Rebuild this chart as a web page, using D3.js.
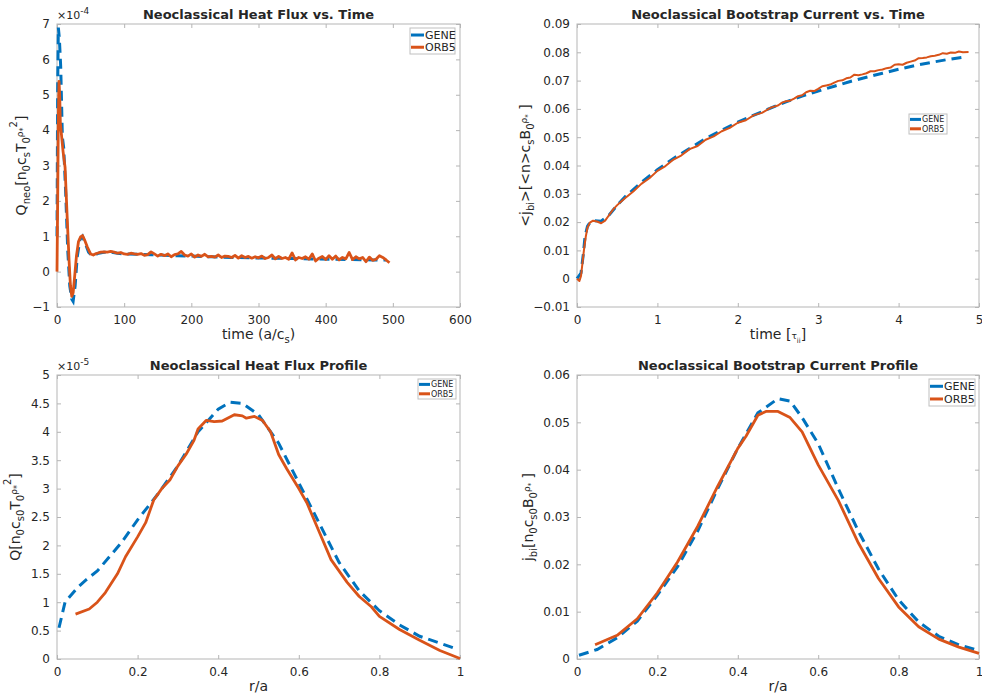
<!DOCTYPE html>
<html lang="en">
<head>
<meta charset="UTF-8">
<title>Neoclassical GENE vs ORB5</title>
<script src="https://cdn.jsdelivr.net/npm/d3@7"></script>
<style>
  body { margin: 0; background: #fff; }
  text { font-family: "DejaVu Sans", sans-serif; fill: #262626; }
</style>
</head>
<body>
<div id="chart"></div>
<script>
// ---- data ----
// panel 1: heat flux vs time (x 1e-4)
var flux_t_gene = [0, 1, 2, 3.5, 5.5, 8, 10, 13, 16, 19, 22, 24, 27, 30, 34, 38, 42, 47, 52, 57, 62, 70, 80, 90, 100, 120, 140, 160, 180, 200, 230, 260, 290, 320, 350, 380, 410, 440, 470, 490];
var flux_v_gene = [1.0, 5.2, 6.9, 6.6, 5.8, 3.8, 3.5, 2.2, 0.6, -0.4, -0.78, -0.84, -0.4, 0.4, 0.9, 1.0, 0.8, 0.55, 0.45, 0.48, 0.52, 0.55, 0.55, 0.52, 0.50, 0.49, 0.48, 0.46, 0.45, 0.44, 0.42, 0.40, 0.39, 0.38, 0.37, 0.36, 0.35, 0.34, 0.33, 0.33];
var flux_t_orb = [0, 1, 2, 3, 4, 5, 7, 9, 12, 15, 18, 20, 22, 24, 26, 29, 32, 35, 38, 41, 45, 50, 54, 57,
  60, 65, 70, 75, 80, 85, 90, 95, 100, 105, 110, 115, 120, 125, 130, 135, 140, 145, 150, 155, 160, 165, 170, 175, 180, 185, 190, 195,
  200, 205, 210, 215, 220, 225, 230, 235, 240, 245, 250, 255, 260, 265, 270, 275, 280, 285, 290, 295,
  300, 305, 310, 315, 320, 325, 330, 335, 340, 345, 350, 355, 360, 365, 370, 375, 380, 385, 390, 395,
  400, 405, 410, 415, 420, 425, 430, 435, 440, 445, 450, 455, 460, 465, 470, 475, 480, 485, 490, 495];
var flux_v_orb = [0.0, 2.0, 4.4, 5.38, 5.0, 4.2, 3.8, 3.4, 2.95, 1.6, 0.3, -0.4, -0.7, -0.6, -0.2, 0.45, 0.85, 0.98, 1.02, 0.9, 0.7, 0.5, 0.47, 0.5,
  0.52, 0.55, 0.56, 0.55, 0.57, 0.55, 0.52, 0.54, 0.50, 0.49, 0.52, 0.50, 0.49, 0.51, 0.46, 0.48, 0.56, 0.50, 0.44, 0.49, 0.45, 0.50, 0.42, 0.48, 0.50, 0.57, 0.47, 0.44,
  0.50, 0.41, 0.47, 0.43, 0.49, 0.42, 0.43, 0.41, 0.47, 0.40, 0.44, 0.43, 0.40, 0.46, 0.38, 0.45, 0.40, 0.43, 0.38, 0.42,
  0.39, 0.44, 0.37, 0.40, 0.47, 0.36, 0.43, 0.37, 0.40, 0.35, 0.53, 0.33, 0.40, 0.37, 0.42, 0.35, 0.50, 0.30, 0.38, 0.43,
  0.34, 0.45, 0.35, 0.44, 0.33, 0.40, 0.36, 0.54, 0.34, 0.42, 0.36, 0.40, 0.28, 0.41, 0.32, 0.35, 0.45, 0.40, 0.33, 0.25];

// panel 2: bootstrap current vs time
var boot_t_gene = [0, 0.05, 0.08, 0.1, 0.13, 0.16, 0.2, 0.3, 0.4, 0.5, 0.6, 0.8, 1.0, 1.2, 1.4, 1.6, 1.8, 2.0, 2.2, 2.4, 2.6, 2.8, 3.0, 3.2, 3.4, 3.6, 3.8, 4.0, 4.2, 4.4, 4.6, 4.85];
var boot_v_gene = [0, 0.002, 0.009, 0.015, 0.0185, 0.0198, 0.0205, 0.0203, 0.0225, 0.026, 0.029, 0.034, 0.0385, 0.0425, 0.046, 0.0495, 0.0525, 0.0553, 0.0578, 0.0602, 0.0625, 0.0645, 0.0663, 0.068, 0.0697, 0.0712, 0.0726, 0.074, 0.0753, 0.0764, 0.0774, 0.0785];
var boot_t_orb = [0, 0.03, 0.05, 0.07, 0.09, 0.11, 0.13, 0.16, 0.2, 0.25, 0.3, 0.35, 0.4, 0.45, 0.5, 0.55, 0.6,
  0.7, 0.8, 0.9, 1.0, 1.1, 1.2, 1.3, 1.4, 1.5, 1.6, 1.7, 1.8, 1.9, 2.0, 2.1, 2.2, 2.3,
  2.4, 2.45, 2.5, 2.55, 2.6, 2.65, 2.7, 2.75, 2.8, 2.85, 2.9, 2.95, 3.0, 3.05, 3.1, 3.15, 3.2, 3.25, 3.3, 3.35,
  3.4, 3.45, 3.5, 3.55, 3.6, 3.65, 3.7, 3.75, 3.8, 3.85, 3.9, 3.95, 4.0, 4.05, 4.1, 4.15, 4.2, 4.25, 4.3, 4.35,
  4.4, 4.45, 4.5, 4.55, 4.6, 4.65, 4.7, 4.75, 4.8, 4.87];
var boot_v_orb = [0, -0.0008, 0.001, 0.006, 0.011, 0.015, 0.018, 0.0198, 0.0205, 0.0202, 0.0196, 0.0205, 0.0225, 0.0245, 0.026, 0.0273, 0.0285,
  0.0308, 0.0335, 0.0355, 0.0381, 0.0398, 0.0421, 0.0436, 0.0458, 0.0469, 0.0491, 0.0503, 0.0521, 0.0533, 0.0551, 0.0560, 0.0578, 0.0586,
  0.0603, 0.0608, 0.0612, 0.0622, 0.0627, 0.0629, 0.0636, 0.0645, 0.0648, 0.0659, 0.0664, 0.0663, 0.0671, 0.0680, 0.0683, 0.0686, 0.0693, 0.0699, 0.0701, 0.0708,
  0.0711, 0.0721, 0.0719, 0.0722, 0.0726, 0.0733, 0.0733, 0.0737, 0.0739, 0.0744, 0.0746, 0.0756, 0.0758, 0.0756, 0.0763, 0.0767, 0.0771, 0.0779, 0.0780, 0.0782,
  0.0786, 0.0788, 0.0791, 0.0797, 0.0795, 0.0799, 0.0798, 0.0803, 0.0800, 0.0801];

// panel 3: heat flux profile (x 1e-5)
var qprof_r_gene = [0.005, 0.02, 0.05, 0.07, 0.1, 0.13, 0.16, 0.2, 0.25, 0.3, 0.35, 0.4, 0.43, 0.46, 0.5, 0.55, 0.6, 0.65, 0.7, 0.75, 0.8, 0.85, 0.9, 0.95, 0.99];
var qprof_v_gene = [0.55, 1.0, 1.25, 1.38, 1.55, 1.8, 2.05, 2.45, 2.9, 3.4, 4.0, 4.4, 4.52, 4.5, 4.3, 3.8, 3.1, 2.4, 1.7, 1.2, 0.85, 0.6, 0.4, 0.28, 0.18];
var qprof_r_orb = [0.046, 0.08, 0.1, 0.12, 0.15, 0.17, 0.2, 0.22, 0.24, 0.26, 0.28, 0.3, 0.32, 0.34, 0.35, 0.37, 0.39, 0.41, 0.44, 0.46, 0.47, 0.49, 0.51, 0.53, 0.55, 0.57, 0.6, 0.62, 0.65, 0.68, 0.72, 0.75, 0.78, 0.8, 0.85, 0.9, 0.95, 1.0];
var qprof_v_orb = [0.79, 0.88, 1.0, 1.17, 1.5, 1.8, 2.15, 2.4, 2.8, 3.0, 3.15, 3.4, 3.6, 3.85, 4.05, 4.2, 4.18, 4.19, 4.3, 4.28, 4.24, 4.27, 4.2, 4.0, 3.6, 3.35, 3.0, 2.75, 2.25, 1.75, 1.35, 1.1, 0.92, 0.75, 0.52, 0.33, 0.15, 0.01];

// panel 4: bootstrap current profile
var jprof_r_gene = [0.005, 0.05, 0.1, 0.15, 0.2, 0.25, 0.3, 0.35, 0.4, 0.45, 0.5, 0.53, 0.56, 0.6, 0.65, 0.7, 0.75, 0.8, 0.85, 0.9, 0.95, 0.99];
var jprof_v_gene = [0.0008, 0.002, 0.0045, 0.008, 0.0135, 0.0195, 0.027, 0.036, 0.0445, 0.052, 0.055, 0.0545, 0.051, 0.0455, 0.036, 0.027, 0.019, 0.0125, 0.0078, 0.0048, 0.003, 0.002];
var jprof_r_orb = [0.045, 0.1, 0.15, 0.2, 0.25, 0.3, 0.35, 0.4, 0.42, 0.45, 0.47, 0.5, 0.53, 0.56, 0.6, 0.65, 0.7, 0.75, 0.8, 0.85, 0.9, 0.95, 1.0];
var jprof_v_orb = [0.003, 0.005, 0.0085, 0.014, 0.0205, 0.028, 0.0365, 0.0445, 0.047, 0.0515, 0.0523, 0.0523, 0.051, 0.048, 0.041, 0.0335, 0.0245, 0.017, 0.011, 0.0068, 0.0042, 0.0025, 0.0012];

var series_names = ["GENE", "ORB5"];
var colors = ["#0072BD", "#D95319"];

// ---- drawing ----
var svg = d3.select("#chart").append("svg")
  .attr("width", 982).attr("height", 696);

// rich text: segments [text, size, rise]
function richText(sel, segs) {
  var prev = 0;
  segs.forEach(function (s) {
    sel.append("tspan")
      .attr("font-size", s[1])
      .attr("dy", prev - s[2])
      .text(s[0]);
    prev = s[2];
  });
}

function zip(a, b) { return a.map(function (d, i) { return [d, b[i]]; }); }

function panel(cfg) {
  var w = cfg.right - cfg.left, h = cfg.bottom - cfg.top;
  var g = svg.append("g").attr("transform", "translate(" + cfg.left + "," + cfg.top + ")");
  var x = d3.scaleLinear().domain(cfg.xdom).range([0, w]);
  var y = d3.scaleLinear().domain(cfg.ydom).range([h, 0]);

  g.append("rect").attr("width", w).attr("height", h).attr("fill", "#fff");

  var ax = g.append("g").attr("transform", "translate(0," + h + ")")
    .call(d3.axisBottom(x).tickValues(cfg.xticks).tickFormat(cfg.xfmt).tickSizeInner(-4).tickSizeOuter(0).tickPadding(8));
  var ay = g.append("g")
    .call(d3.axisLeft(y).tickValues(cfg.yticks).tickFormat(cfg.yfmt).tickSizeInner(-4).tickSizeOuter(0).tickPadding(7));
  var at = g.append("g")
    .call(d3.axisTop(x).tickValues(cfg.xticks).tickFormat("").tickSizeInner(-4).tickSizeOuter(0));
  var ar = g.append("g").attr("transform", "translate(" + w + ",0)")
    .call(d3.axisRight(y).tickValues(cfg.yticks).tickFormat("").tickSizeInner(-4).tickSizeOuter(0));
  [ax, ay, at, ar].forEach(function (a) {
    a.select(".domain").remove();
    a.selectAll("line").attr("stroke", "#b5b5b5");
    a.selectAll("text").attr("font-size", 12).attr("fill", "#262626")
      .style("font-family", '"DejaVu Sans", sans-serif');
  });
  g.append("rect").attr("width", w).attr("height", h)
    .attr("fill", "none").attr("stroke", "#b5b5b5").attr("stroke-width", 1);

  var clip = "clip" + cfg.id;
  g.append("clipPath").attr("id", clip).append("rect")
    .attr("x", -2).attr("y", -2).attr("width", w + 4).attr("height", h + 4);

  var line = d3.line().x(function (d) { return x(d[0]); }).y(function (d) { return y(d[1]); });
  g.append("path").datum(cfg.gene).attr("clip-path", "url(#" + clip + ")")
    .attr("d", line).attr("fill", "none").attr("stroke", colors[0])
    .attr("stroke-width", 3).attr("stroke-dasharray", "10,6");
  g.append("path").datum(cfg.orb).attr("clip-path", "url(#" + clip + ")")
    .attr("d", line).attr("fill", "none").attr("stroke", colors[1])
    .attr("stroke-width", cfg.orbWidth).attr("stroke-linejoin", "round");

  // title
  g.append("text").attr("x", w / 2).attr("y", cfg.titleY)
    .attr("text-anchor", "middle").attr("font-size", 13).attr("font-weight", "bold")
    .attr("fill", "#000").text(cfg.title);

  // exponent
  if (cfg.exp) {
    var ex = g.append("text").attr("x", 0).attr("y", -5);
    richText(ex, [["\u00d710", 11, 0], [cfg.exp, 9, 5]]);
    ex.selectAll("tspan").attr("fill", "#262626");
  }

  // x label
  var xl = g.append("text").attr("x", w / 2).attr("y", h + 32).attr("text-anchor", "middle");
  richText(xl, cfg.xlabel);

  // y label
  var yl = g.append("text").attr("transform", "translate(" + cfg.ylabelX + "," + (h / 2) + ") rotate(-90)")
    .attr("text-anchor", "middle");
  richText(yl, cfg.ylabel);

  // legend
  var L = cfg.legend;
  var lg = g.append("g").attr("transform", "translate(" + (L.x - cfg.left) + "," + (L.y - cfg.top) + ")");
  lg.append("rect").attr("width", L.w).attr("height", L.h)
    .attr("fill", "#fff").attr("stroke", "#c0c0c0").attr("stroke-width", 1);
  series_names.forEach(function (name, i) {
    var yy = L.h * (0.27 + 0.47 * i);
    lg.append("line").attr("x1", 1).attr("x2", L.line).attr("y1", yy).attr("y2", yy)
      .attr("stroke", colors[i]).attr("stroke-width", 3);
    lg.append("text").attr("x", L.line + 1).attr("y", yy + L.fs * 0.36)
      .attr("font-size", L.fs).text(name);
  });
}

function fmt2(d) { return d === 0 ? "0" : d3.format(".2f")(d); }
function fmtG(d) { return d3.format("~g")(d); }

panel({
  id: 1, left: 57, right: 460, top: 24, bottom: 307,
  xdom: [0, 600], ydom: [-1, 7],
  xticks: d3.range(0, 601, 100), yticks: d3.range(-1, 8, 1),
  xfmt: fmtG, yfmt: fmtG,
  gene: zip(flux_t_gene, flux_v_gene), orb: zip(flux_t_orb, flux_v_orb), orbWidth: 2.8,
  title: "Neoclassical Heat Flux vs. Time", titleY: -5, exp: "-4",
  xlabel: [["time (a/c", 14, 0], ["s", 10, -4], [")", 14, 0]],
  ylabel: [["Q", 14, 0], ["neo", 10, -4], ["[n", 14, 0], ["0", 10, -4], ["c", 14, 0], ["s", 10, -4], ["T", 14, 0], ["0", 10, -4],
           ["\u03c1", 9, 3], ["*", 8, 0], ["2", 10, 9], ["]", 14, 0]],
  ylabelX: -31,
  legend: { x: 410, y: 28, w: 45, h: 26, line: 14, fs: 11 }
});

panel({
  id: 2, left: 577, right: 979, top: 24, bottom: 307,
  xdom: [0, 5], ydom: [-0.01, 0.09],
  xticks: d3.range(0, 6, 1), yticks: d3.range(-1, 10, 1).map(function (d) { return d / 100; }),
  xfmt: fmtG, yfmt: fmt2,
  gene: zip(boot_t_gene, boot_v_gene), orb: zip(boot_t_orb, boot_v_orb), orbWidth: 2,
  title: "Neoclassical Bootstrap Current vs. Time", titleY: -5,
  xlabel: [["time [", 14, 0], ["\u03c4", 9, 0], ["ii", 7, -4], ["]", 14, 0]],
  ylabel: [["<j", 14, 0], ["bi", 10, -4], [">[<n>c", 14, 0], ["s", 10, -4], ["B", 14, 0], ["0", 10, -4],
           ["\u03c1", 9, 3], ["*", 7, 0], [" ]", 14, 0]],
  ylabelX: -47,
  legend: { x: 909, y: 114, w: 38, h: 20, line: 12, fs: 8 }
});

panel({
  id: 3, left: 57, right: 460, top: 375, bottom: 659,
  xdom: [0, 1], ydom: [0, 5],
  xticks: d3.range(0, 11, 2).map(function (d) { return d / 10; }), yticks: d3.range(0, 11, 1).map(function (d) { return d / 2; }),
  xfmt: fmtG, yfmt: fmtG,
  gene: zip(qprof_r_gene, qprof_v_gene), orb: zip(qprof_r_orb, qprof_v_orb), orbWidth: 2.8,
  title: "Neoclassical Heat Flux Profile", titleY: -5, exp: "-5",
  xlabel: [["r/a", 14, 0]],
  ylabel: [["Q[n", 14, 0], ["0", 10, -4], ["c", 14, 0], ["s0", 10, -4], ["T", 14, 0], ["0", 10, -4],
           ["\u03c1", 9, 3], ["*", 8, 0], ["2", 10, 9], ["]", 14, 0]],
  ylabelX: -37,
  legend: { x: 418, y: 379, w: 38, h: 20, line: 12, fs: 8 }
});

panel({
  id: 4, left: 577, right: 979, top: 375, bottom: 659,
  xdom: [0, 1], ydom: [0, 0.06],
  xticks: d3.range(0, 11, 2).map(function (d) { return d / 10; }), yticks: d3.range(0, 7, 1).map(function (d) { return d / 100; }),
  xfmt: fmtG, yfmt: fmt2,
  gene: zip(jprof_r_gene, jprof_v_gene), orb: zip(jprof_r_orb, jprof_v_orb), orbWidth: 2.8,
  title: "Neoclassical Bootstrap Current Profile", titleY: -5,
  xlabel: [["r/a", 14, 0]],
  ylabel: [["j", 14, 0], ["bi", 10, -4], ["[n", 14, 0], ["0", 10, -4], ["c", 14, 0], ["s0", 10, -4], ["B", 14, 0], ["0", 10, -4],
           ["\u03c1", 9, 3], ["*", 7, 0], [" ]", 14, 0]],
  ylabelX: -44,
  legend: { x: 929, y: 379, w: 46, h: 27, line: 14, fs: 11 }
});
</script>
</body>
</html>
